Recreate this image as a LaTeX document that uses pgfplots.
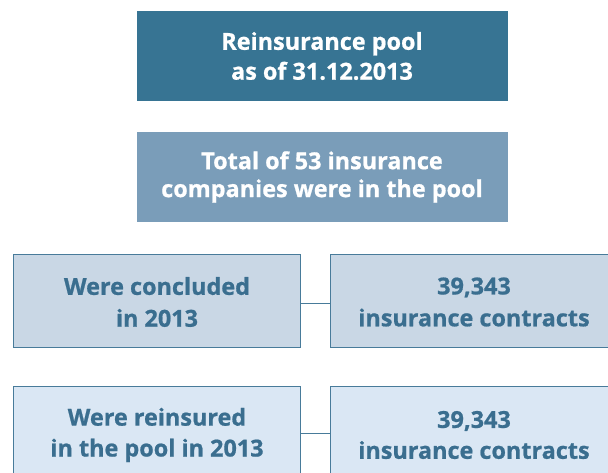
\documentclass[border=0pt]{standalone}
\usepackage{pgfplots}
\pgfplotsset{compat=1.18}
\usepackage{fontspec}
\setmainfont{Open Sans}[BoldFeatures={FakeBold=0.8}]
\definecolor{cA}{RGB}{55,116,147}
\definecolor{cB}{RGB}{122,157,185}
\definecolor{cC}{RGB}{201,215,229}
\definecolor{cD}{RGB}{218,231,244}
\definecolor{cE}{RGB}{72,123,154}
\definecolor{cT}{RGB}{58,110,143}
\begin{document}
\begin{tikzpicture}
\clip (0,0) rectangle (608bp,473bp);
\begin{axis}[
  scale only axis, width=608bp, height=473bp,
  xmin=0, xmax=608, ymin=0, ymax=473,
  hide axis, clip=false,
]
% boxes
\addplot[fill=cA, draw=none] coordinates {(137,372) (508,372) (508,462) (137,462)} --cycle;
\addplot[fill=cB, draw=none] coordinates {(137,251) (508,251) (508,341) (137,341)} --cycle;
\addplot[fill=cC, draw=cE, line width=0.9bp] coordinates {(13.5,126) (300,126) (300,219) (13.5,219)} --cycle;
\addplot[fill=cC, draw=cE, line width=0.9bp] coordinates {(330,126) (620,126) (620,219) (330,219)} --cycle;
\addplot[fill=cD, draw=cE, line width=0.9bp] coordinates {(13.5,-10) (300,-10) (300,87) (13.5,87)} --cycle;
\addplot[fill=cD, draw=cE, line width=0.9bp] coordinates {(330,-10) (620,-10) (620,87) (330,87)} --cycle;
% connectors
\addplot[draw=cE, line width=0.9bp] coordinates {(300,170) (330,170)};
\addplot[draw=cE, line width=0.9bp] coordinates {(300,40) (330,40)};
% texts
\node[text=white, font=\bfseries\fontsize{23.5}{30}\selectfont, align=center] at (axis cs:322,417) {Reinsurance pool\\as of 31.12.2013};
\node[text=white, font=\bfseries\fontsize{23.5}{28}\selectfont, align=center] at (axis cs:322,296) {Total of 53 insurance\\companies were in the pool};
\node[text=cT, font=\bfseries\fontsize{23.5}{32}\selectfont, align=center] at (axis cs:157,171) {Were concluded\\in 2013};
\node[text=cT, font=\bfseries\fontsize{23.5}{32}\selectfont, align=center] at (axis cs:474,171) {39,343\\insurance contracts};
\node[text=cT, font=\bfseries\fontsize{23.5}{31}\selectfont, align=center] at (axis cs:157,38) {Were reinsured\\in the pool in 2013};
\node[text=cT, font=\bfseries\fontsize{23.5}{31}\selectfont, align=center] at (axis cs:474,38) {39,343\\insurance contracts};
\end{axis}
\end{tikzpicture}
\end{document}
